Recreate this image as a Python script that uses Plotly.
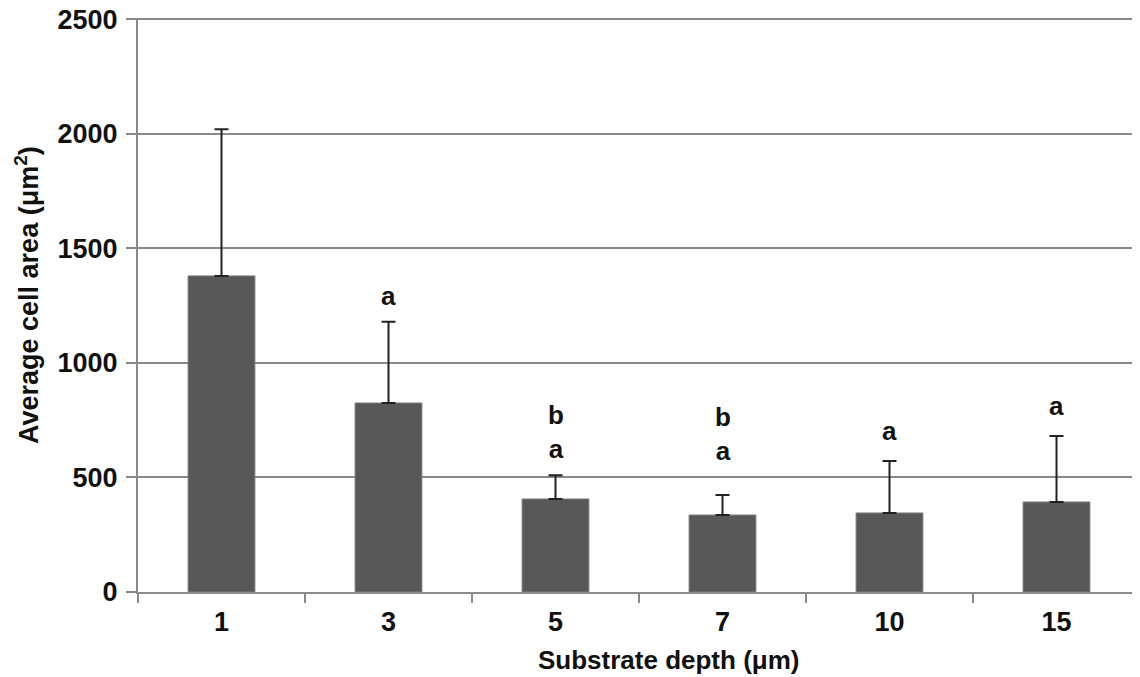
import plotly.graph_objects as go

categories = ["1", "3", "5", "7", "10", "15"]
mean_area = [1380, 825, 406, 336, 345, 393]
sd_plus = [640, 355, 104, 87, 227, 288]
letters = ["", "a", "b<br>a", "b<br>a", "a", "a"]
letter_y = [0, 1291, 700, 690, 702, 811]
y_ticks = [0, 500, 1000, 1500, 2000, 2500]

FONT = "Liberation Sans, Arial, sans-serif"

fig = go.Figure()
fig.add_trace(go.Bar(
    x=list(range(len(categories))),
    y=mean_area,
    marker=dict(color="#585858", line=dict(color="#7a7a7a", width=1)),
    width=0.4,
    error_y=dict(type="data", symmetric=False, array=sd_plus,
                 arrayminus=[0] * len(sd_plus),
                 color="#222222", thickness=2, width=7),
    showlegend=False,
))

for i, (t, yy) in enumerate(zip(letters, letter_y)):
    if t:
        fig.add_annotation(x=i, y=yy, xref="x", yref="y", text="<b>" + t + "</b>",
                           showarrow=False,
                           font=dict(family=FONT, size=26, color="#111111"),
                           yanchor="middle")

# axis titles
fig.add_annotation(xref="paper", yref="paper", x=0.529, y=0, yshift=-68,
                   text="<b>Substrate depth (μm)</b>", showarrow=False,
                   font=dict(family=FONT, size=26, color="#111111"),
                   xanchor="center", yanchor="middle")
fig.add_annotation(xref="paper", yref="paper", x=0, y=0.5, xshift=-111, yshift=10,
                   text="<b>Average cell area (μm<sup>2</sup>)</b>", showarrow=False,
                   textangle=-90,
                   font=dict(family=FONT, size=27, color="#111111"),
                   xanchor="center", yanchor="middle")

fig.update_layout(
    width=1132, height=669,
    margin=dict(l=130, r=0, t=10, b=85),
    paper_bgcolor="white", plot_bgcolor="white",
    font=dict(family=FONT, color="#111111"),
)
fig.update_xaxes(
    range=[-0.5, 5.5],
    tickvals=list(range(len(categories))),
    ticktext=categories,
    ticks="",
    ticklabelstandoff=5,
    showline=True, linecolor="#8a8a8a", linewidth=2,
    showgrid=False, zeroline=False,
    minor=dict(tickvals=[k + 0.5 for k in range(-1, len(categories))],
               ticks="outside", ticklen=9, tickwidth=2, tickcolor="#8a8a8a",
               showgrid=False),
    tickfont=dict(family=FONT, size=27, color="#111111", weight="bold"),
    automargin=False,
)
fig.update_yaxes(
    range=[0, 2506],
    tickvals=y_ticks,
    ticks="outside", ticklen=10, tickwidth=2, tickcolor="#8a8a8a",
    ticklabeloverflow="allow",
    ticklabelstandoff=3,
    showline=True, linecolor="#8a8a8a", linewidth=2,
    showgrid=True, gridcolor="#8a8a8a", gridwidth=2,
    zeroline=False,
    tickfont=dict(family=FONT, size=27, color="#111111", weight="bold"),
    automargin=False,
)

fig.write_html("out.html")
